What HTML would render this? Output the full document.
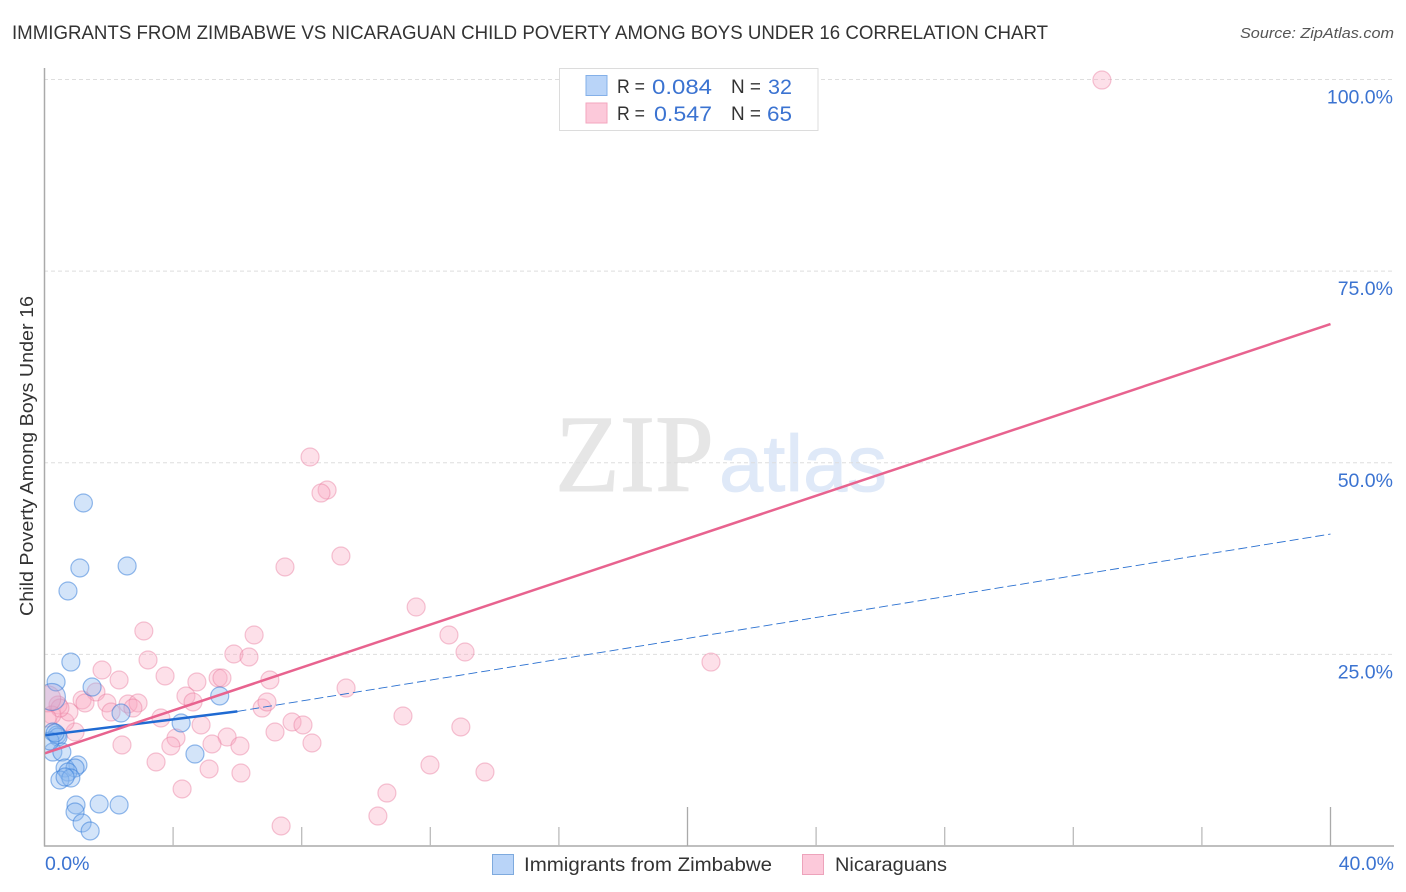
<!DOCTYPE html>
<html lang="en">
<head>
<meta charset="utf-8">
<title>Immigrants from Zimbabwe vs Nicaraguan Child Poverty Among Boys Under 16 Correlation Chart</title>
<style>
html,body{margin:0;padding:0;background:#fff;width:1406px;height:892px;overflow:hidden}
svg{display:block}
text{font-family:"Liberation Sans",sans-serif}
</style>
</head>
<body>
<svg id="chart" xmlns="http://www.w3.org/2000/svg" width="1406" height="892" viewBox="0 0 1406 892">
  <defs>
    <clipPath id="plot-clip"><rect x="45" y="60" width="1349" height="786"/></clipPath>
  </defs>
  <text x="12" y="39" font-size="19.5" fill="#333" textLength="1036" lengthAdjust="spacingAndGlyphs">IMMIGRANTS FROM ZIMBABWE VS NICARAGUAN CHILD POVERTY AMONG BOYS UNDER 16 CORRELATION CHART</text>
  <text x="1394" y="38" font-size="15" font-style="italic" fill="#555" text-anchor="end" textLength="154" lengthAdjust="spacingAndGlyphs">Source: ZipAtlas.com</text>

  <g>
    <text x="555" y="491" font-size="110" fill="#e6e6e6" stroke="#e6e6e6" stroke-width="1" textLength="159" lengthAdjust="spacingAndGlyphs" style="font-family:'Liberation Serif',serif">ZIP</text>
    <text x="719" y="491" font-size="80" fill="#dfe9f8" stroke="#dfe9f8" stroke-width="0.8" textLength="168" lengthAdjust="spacingAndGlyphs">atlas</text>
  </g>

  <g id="grid"></g>
  <g id="points" clip-path="url(#plot-clip)"></g>
  <g id="trends"></g>
  <g id="axes"></g>

  <text transform="translate(33,456) rotate(-90)" font-size="18.5" fill="#333" text-anchor="middle" textLength="320" lengthAdjust="spacingAndGlyphs">Child Poverty Among Boys Under 16</text>

  <g>
    <rect x="559.5" y="68.5" width="258.5" height="62" fill="#fff" stroke="#dcdcdc" stroke-width="1"/>
    <rect x="586" y="75.5" width="21" height="20" fill="#b9d4f8" stroke="#84b0e8"/>
    <rect x="586" y="103" width="21" height="20" fill="#fcc9da" stroke="#f3a6bf"/>
    <text x="617" y="93" font-size="19" fill="#333" textLength="28" lengthAdjust="spacingAndGlyphs">R =</text>
    <text x="652" y="94" font-size="21" fill="#3b73d1" textLength="60" lengthAdjust="spacingAndGlyphs">0.084</text>
    <text x="731" y="93" font-size="19" fill="#333" textLength="30" lengthAdjust="spacingAndGlyphs">N =</text>
    <text x="768" y="94" font-size="21" fill="#3b73d1" textLength="24" lengthAdjust="spacingAndGlyphs">32</text>
    <text x="617" y="120" font-size="19" fill="#333" textLength="28" lengthAdjust="spacingAndGlyphs">R =</text>
    <text x="654" y="121" font-size="21" fill="#3b73d1" textLength="58" lengthAdjust="spacingAndGlyphs">0.547</text>
    <text x="731" y="120" font-size="19" fill="#333" textLength="30" lengthAdjust="spacingAndGlyphs">N =</text>
    <text x="767" y="121" font-size="21" fill="#3b73d1" textLength="25" lengthAdjust="spacingAndGlyphs">65</text>
  </g>

  <g>
    <rect x="492.5" y="854.5" width="21" height="20" fill="#b9d4f8" stroke="#7eaade"/>
    <text x="524" y="871" font-size="19.5" fill="#333" textLength="248" lengthAdjust="spacingAndGlyphs">Immigrants from Zimbabwe</text>
    <rect x="802.5" y="854.5" width="21" height="20" fill="#fcc9da" stroke="#eda3bb"/>
    <text x="835" y="871" font-size="19.5" fill="#333" textLength="112" lengthAdjust="spacingAndGlyphs">Nicaraguans</text>
  </g>
</svg>
<script>
const zimbabweX = [1.21,1.10,2.57,0.73,0.82,0.36,1.48,2.38,5.45,4.25,4.68,0.26,0.39,0.42,0.26,0.54,1.04,0.64,0.95,0.73,0.48,0.82,0.64,0.98,1.70,2.32,0.95,1.17,1.42,0.17,0.33];
const zimbabweY = [44.75,36.27,36.53,33.27,24.0,21.4,20.74,17.35,19.57,16.05,12.0,14.87,14.48,14.22,12.26,12.26,10.57,10.18,10.18,9.65,8.61,8.87,9.0,5.35,5.48,5.35,4.44,3.0,1.96,13.7,14.74];
const zimbabweLargeX = [0.23];
const zimbabweLargeY = [19.44];
const nicaraguanX = [32.89,8.26,8.79,8.60,9.22,7.48,11.56,12.58,13.08,3.09,6.52,5.89,6.36,3.22,20.73,1.79,3.75,2.32,4.74,5.40,5.52,7.01,9.38,4.40,4.62,1.60,1.17,1.26,1.94,2.60,2.91,2.75,2.07,6.77,6.92,11.15,3.62,4.87,7.70,8.04,12.95,7.17,8.32,5.68,4.09,3.93,5.21,6.08,2.41,3.47,5.12,6.11,11.99,13.70,4.28,10.65,10.37,7.36,0.95,0.64,0.76,0.42,0.23,0.48,0.08];
const nicaraguanY = [99.93,50.75,46.44,46.05,37.83,36.4,31.18,27.53,25.31,28.05,27.53,25.05,24.66,24.27,24.0,22.96,22.18,21.66,21.4,21.92,21.92,21.66,20.61,19.57,18.79,20.09,19.05,18.66,18.66,18.53,18.66,18.0,17.48,18.0,18.79,16.96,16.7,15.79,16.18,15.79,15.53,14.87,13.44,14.22,14.09,13.05,13.31,13.05,13.18,10.96,10.05,9.52,10.57,9.65,7.44,6.91,3.91,2.61,14.87,16.18,17.48,18.4,17.09,18.0,16.7];
const nicaraguanLargeX = [0.1];
const nicaraguanLargeY = [19.2];
const zimbabweTrendX = [0,6,40];
const zimbabweTrendY = [14.44,17.56,40.7];
const nicaraguanTrendX = [0,40];
const nicaraguanTrendY = [12.08,68.1];
const yTicks = [25,50,75,100];
const yTickLabels = ["25.0%","50.0%","75.0%","100.0%"];
const xTicks = [4,8,12,16,20,24,28,32,36,40];
const xMajorTicks = [20,40];
const xEndLabels = ["0.0%","40.0%"];

const NS = "http://www.w3.org/2000/svg";
const xScale = v => 44.5 + v * 32.15;
const yScale = v => 846 - v * 7.665;

function make(tag, attrs, parent) {
  const el = document.createElementNS(NS, tag);
  for (const k in attrs) el.setAttribute(k, attrs[k]);
  parent.appendChild(el);
  return el;
}

const grid = document.getElementById("grid");
const axes = document.getElementById("axes");
const points = document.getElementById("points");
const trends = document.getElementById("trends");

yTicks.forEach((t, i) => {
  const line = make("line", {x1: 44, x2: 1393, y1: yScale(t), y2: yScale(t), stroke: "#dedede", "stroke-width": 1, "stroke-dasharray": "4 3"}, grid);
  
  
  const label = make("text", {x: 1393, y: yScale(t) + 24, "font-size": 19.5, fill: "#3b73d1", "text-anchor": "end"}, axes);
  
  
  label.textContent = yTickLabels[i];
});

const yAxis = make("line", {x1: 44.5, x2: 44.5, y1: 68, y2: 846.5, stroke: "#aaa", "stroke-width": 1.5}, axes);


const xAxis = make("line", {x1: 44, x2: 1394, y1: 846, y2: 846, stroke: "#aaa", "stroke-width": 1.5}, axes);



xTicks.forEach(t => {
  const major = xMajorTicks.includes(t);
  const tick = make("line", {x1: xScale(t), x2: xScale(t), y1: major ? 807 : 827, y2: 846, stroke: major ? "#aaa" : "#bbb", "stroke-width": 1.3}, axes);
  
  
});

const xLabelLeft = make("text", {x: 45, y: 870, "font-size": 19.5, fill: "#3b73d1"}, axes);


xLabelLeft.textContent = xEndLabels[0];
const xLabelRight = make("text", {x: 1394, y: 870, "font-size": 19.5, fill: "#3b73d1", "text-anchor": "end"}, axes);


xLabelRight.textContent = xEndLabels[1];

function drawPoints(xs, ys, r, fill, stroke, name) {
  xs.forEach((x, i) => {
    const c = make("circle", {cx: xScale(x), cy: yScale(ys[i]), r: r, fill: fill, stroke: stroke, "stroke-width": 1.2}, points);
    
    
  });
}

const pinkFill = "rgba(250,170,195,0.36)";
const pinkStroke = "rgba(232,120,155,0.42)";
const blueFill = "rgba(140,185,240,0.38)";
const blueStroke = "rgba(45,120,215,0.5)";
drawPoints(nicaraguanX, nicaraguanY, 9, pinkFill, pinkStroke, "point-nicaraguans");
drawPoints(nicaraguanLargeX, nicaraguanLargeY, 13, pinkFill, pinkStroke, "point-nicaraguans-large");
drawPoints(zimbabweX, zimbabweY, 9, blueFill, blueStroke, "point-zimbabwe");
drawPoints(zimbabweLargeX, zimbabweLargeY, 13.5, "rgba(170,160,215,0.32)", blueStroke, "point-zimbabwe-large");

const blueDash = make("line", {x1: xScale(zimbabweTrendX[1]), y1: yScale(zimbabweTrendY[1]), x2: xScale(zimbabweTrendX[2]), y2: yScale(zimbabweTrendY[2]), stroke: "#2a70d0", "stroke-width": 0.9, "stroke-dasharray": "9 4"}, trends);


const blueSolid = make("line", {x1: xScale(zimbabweTrendX[0]), y1: yScale(zimbabweTrendY[0]), x2: xScale(zimbabweTrendX[1]), y2: yScale(zimbabweTrendY[1]), stroke: "#1f6ad2", "stroke-width": 2.5}, trends);


const pinkLine = make("line", {x1: xScale(nicaraguanTrendX[0]), y1: yScale(nicaraguanTrendY[0]), x2: xScale(nicaraguanTrendX[1]), y2: yScale(nicaraguanTrendY[1]), stroke: "#e8638f", "stroke-width": 2.5}, trends);


</script>
</body>
</html>
